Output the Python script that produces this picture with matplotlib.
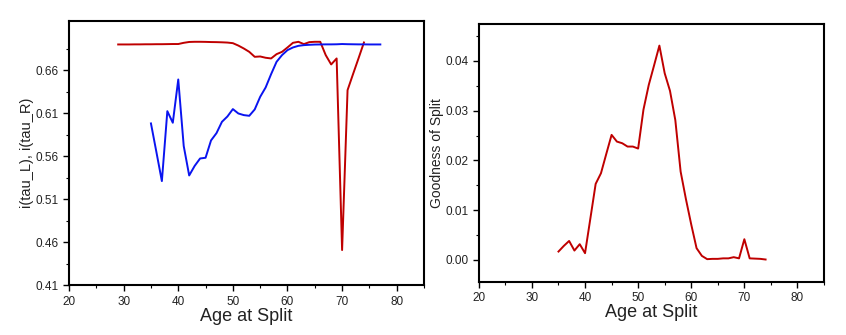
import matplotlib
matplotlib.use("Agg")
import matplotlib.pyplot as plt
import numpy as np

plt.rcParams['font.family'] = ['Liberation Sans', 'DejaVu Sans']

# left panel: impurity of left / right node by split age
ages_red = list(range(29, 75))
imp_red = [0.6903, 0.6903, 0.6903, 0.6904, 0.6904, 0.6905, 0.6905, 0.6906,
           0.6906, 0.6907, 0.6908, 0.6908, 0.6922, 0.6932, 0.6934, 0.6934,
           0.6933, 0.6931, 0.6930, 0.6928, 0.6925, 0.6918, 0.6890, 0.6856,
           0.6817, 0.6759, 0.6763, 0.6748, 0.6740, 0.6790, 0.6817, 0.6868,
           0.6922, 0.6934, 0.6907, 0.6930, 0.6934, 0.6934, 0.6779, 0.6670,
           0.6740, 0.4508, 0.6371, 0.6557, 0.6740, 0.6926]

ages_blue = list(range(35, 78))
imp_blue = [0.5983, 0.5649, 0.5311, 0.6126, 0.5991, 0.6495, 0.5720, 0.5377,
            0.5488, 0.5575, 0.5583, 0.5785, 0.5870, 0.6002, 0.6064, 0.6150,
            0.6099, 0.6080, 0.6072, 0.6146, 0.6293, 0.6402, 0.6557, 0.6701,
            0.6779, 0.6837, 0.6868, 0.6887, 0.6895, 0.6899, 0.6902, 0.6903,
            0.6904, 0.6904, 0.6905, 0.6908, 0.6906, 0.6905, 0.6904, 0.6904,
            0.6903, 0.6903, 0.6903]

# right panel: goodness of split
ages_good = list(range(35, 75))
goodness = [0.00167, 0.0028, 0.0038, 0.00187, 0.00315, 0.00134, 0.0083, 0.01528,
            0.01742, 0.0213, 0.02513, 0.02378, 0.02345, 0.02278, 0.02278, 0.02238,
            0.0302, 0.03518, 0.0391, 0.04308, 0.03752, 0.03397, 0.0281, 0.01775,
            0.0122, 0.0071, 0.00235, 0.0008, 0.00014, 0.0002, 0.0002, 0.0003,
            0.0003, 0.00054, 0.0003, 0.00415, 0.0003, 0.00025, 0.0002, 0.00007]

RED = '#bf0000'
BLUE = '#0a14f0'

fig = plt.figure(figsize=(8.46, 3.35), dpi=100)
ax1 = fig.add_axes([0.0816, 0.149, 0.4196, 0.788])
ax2 = fig.add_axes([0.566, 0.159, 0.408, 0.769])


def style(ax):
    for s in ax.spines.values():
        s.set_linewidth(1.5)
    ax.tick_params(which='major', direction='out', length=4, width=1,
                   labelsize=8.5, colors='black', labelcolor='#222222')
    ax.tick_params(which='minor', direction='out', length=2, width=0.8)
    ax.set_xlim(20, 85)
    ax.set_xticks(range(20, 81, 10))
    ax.set_xticks(range(25, 86, 10), minor=True)
    ax.set_xlabel('Age at Split', fontsize=13, labelpad=0, color='#222222')


ax1.plot(ages_red, imp_red, color=RED, lw=1.4)
ax1.plot(ages_blue, imp_blue, color=BLUE, lw=1.4)
style(ax1)
ax1.set_ylim(0.41, 0.7175)
ax1.set_yticks(np.arange(0.41, 0.67, 0.05))
ax1.set_yticks(np.arange(0.435, 0.69, 0.05), minor=True)
ax1.set_yticklabels(['0.41', '0.46', '0.51', '0.56', '0.61', '0.66'])
ax1.set_ylabel('i(tau_L), i(tau_R)', fontsize=10.5, labelpad=1, color='#222222')

ax2.plot(ages_good, goodness, color=RED, lw=1.4)
style(ax2)
ax2.set_ylim(-0.0044, 0.0474)
ax2.set_yticks([0.0, 0.01, 0.02, 0.03, 0.04])
ax2.set_yticks([0.005, 0.015, 0.025, 0.035, 0.045], minor=True)
ax2.set_yticklabels(['0.00', '0.01', '0.02', '0.03', '0.04'])
ax2.set_ylabel('Goodness of Split', fontsize=10, labelpad=1, color='#222222')

fig.savefig('out.png', dpi=100)
